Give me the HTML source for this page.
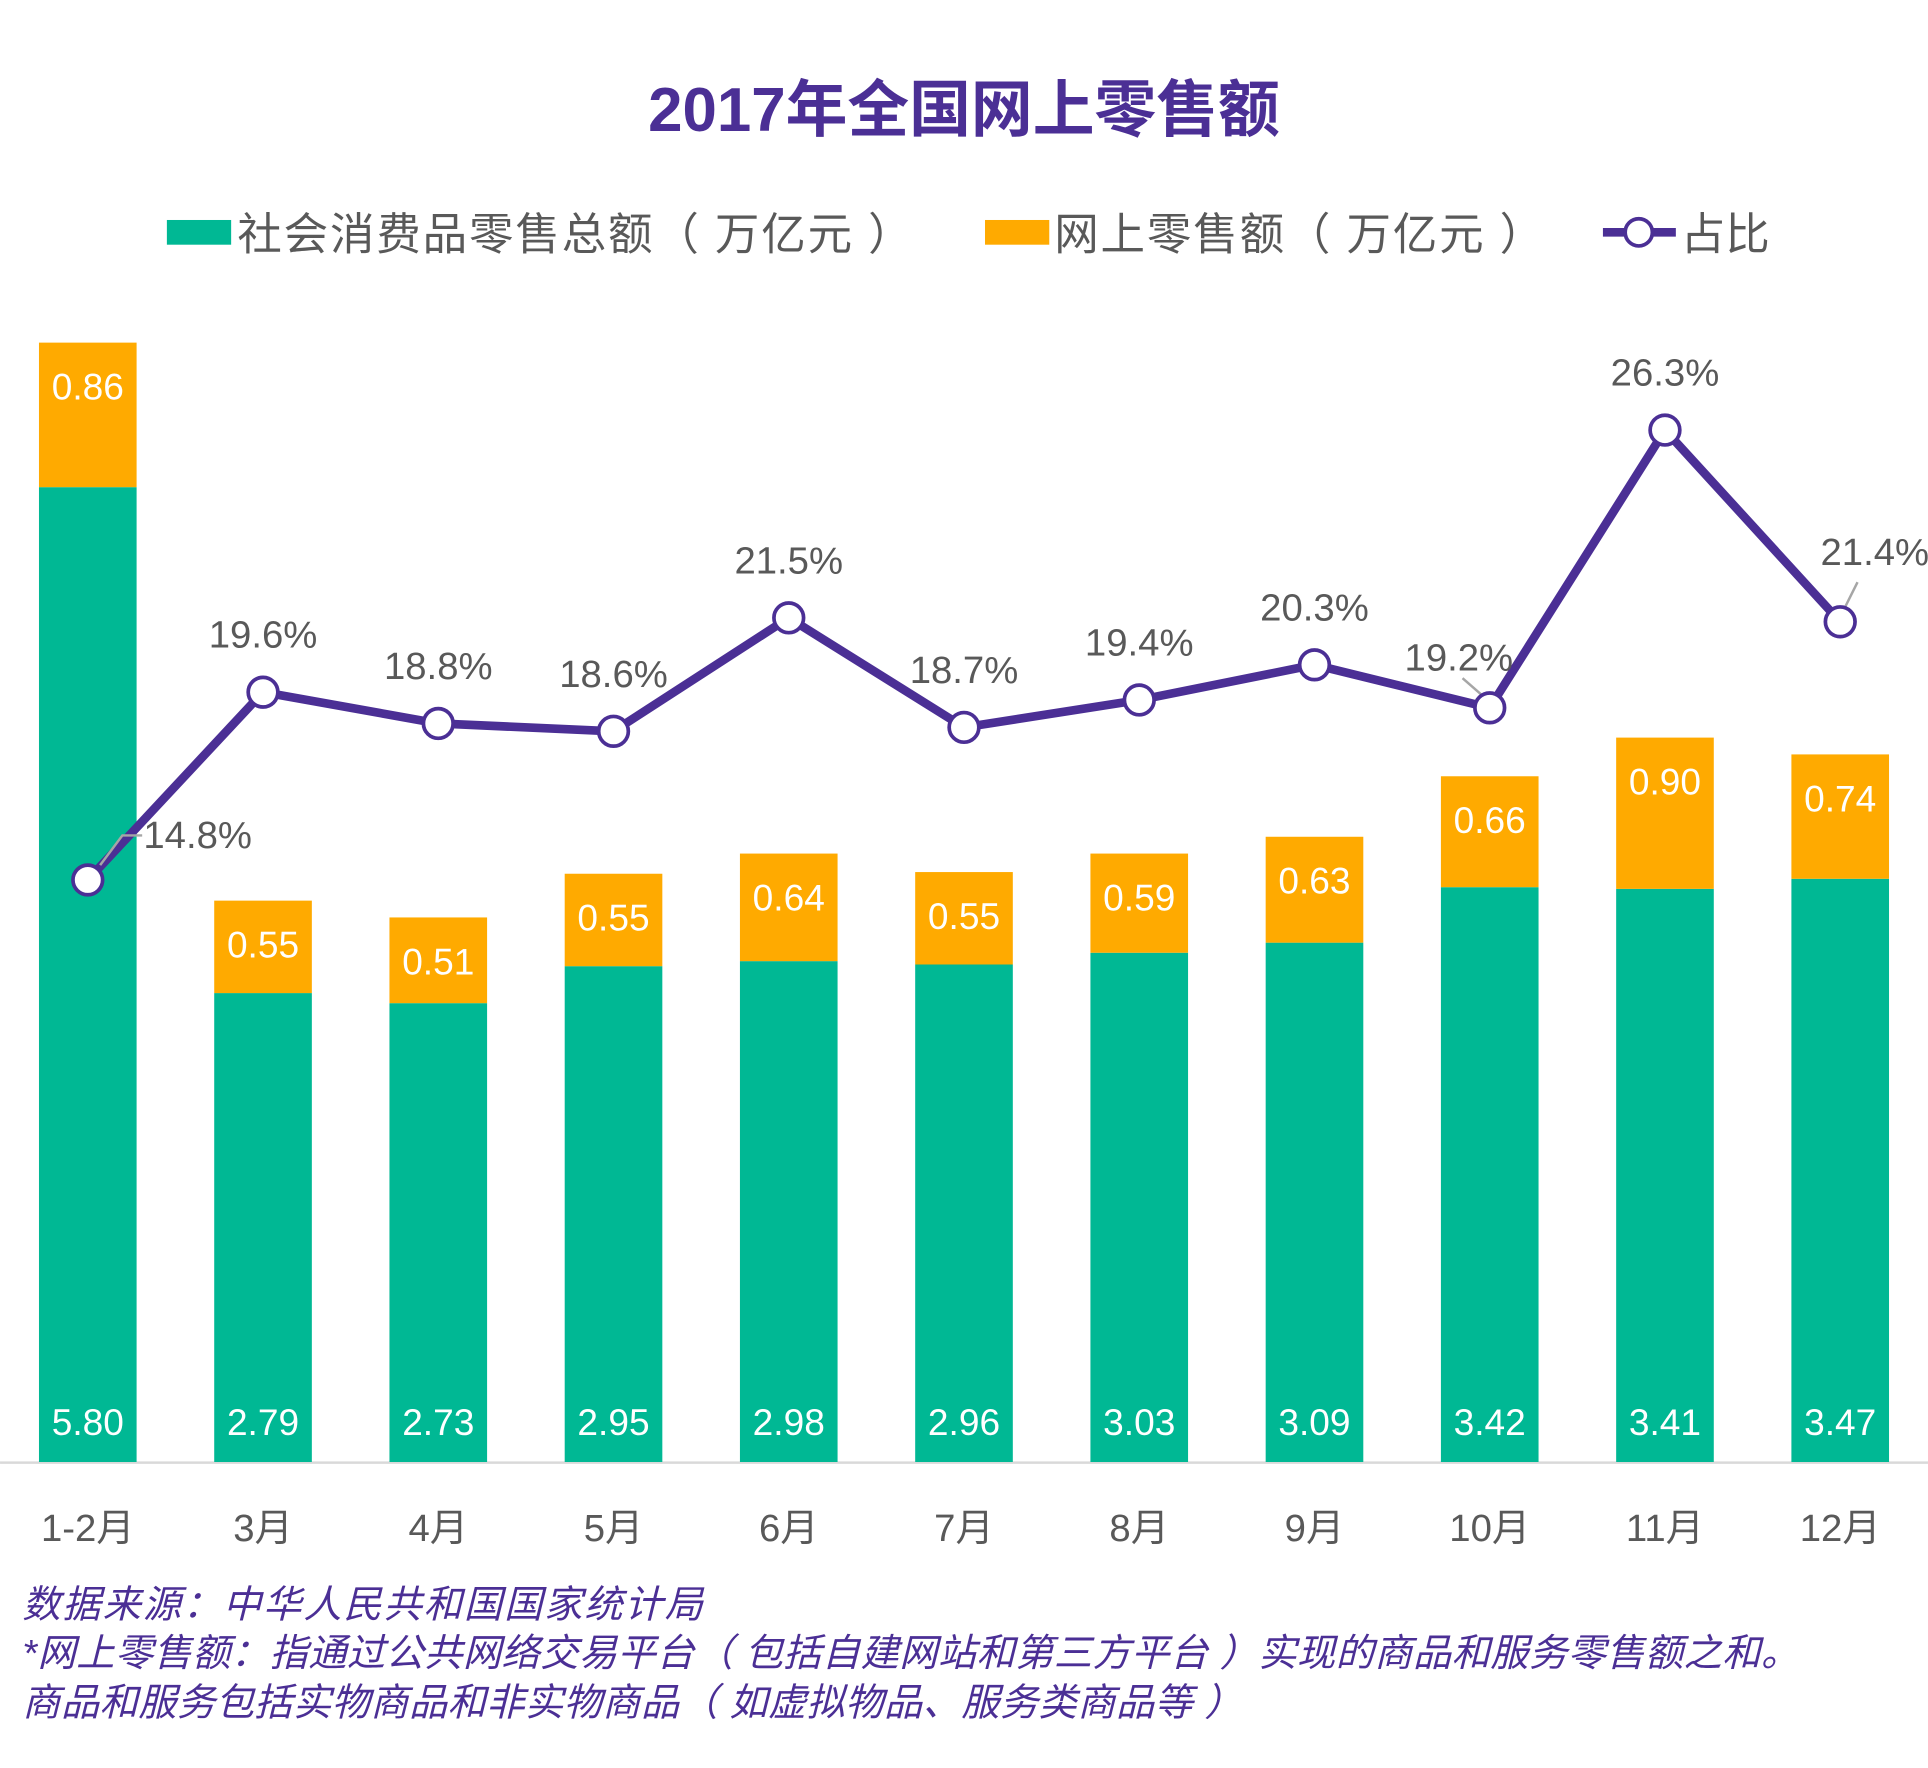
<!DOCTYPE html>
<html><head><meta charset="utf-8">
<style>
html,body{margin:0;padding:0;background:#fff;}
svg{display:block;}
text{font-family:"Liberation Sans","Noto Sans CJK SC",sans-serif;}
</style></head>
<body>
<svg id="chart" width="1928" height="1768" viewBox="0 0 1560 1430.6" xmlns="http://www.w3.org/2000/svg">
<rect width="1560" height="1430.6" fill="#fff"/>
<text x="780" y="106" text-anchor="middle" font-size="50" font-weight="bold" fill="#4b2f95">2017年全国网上零售额</text>
<g>
  <rect x="135" y="178" width="52" height="20" fill="#00b894"/>
  <text x="192" y="202" font-size="36" letter-spacing="1.5" fill="#595959">社会消费品零售总额（ 万亿元 ）</text>
  <rect x="797" y="178" width="52" height="20" fill="#ffaa00"/>
  <text x="853" y="202" font-size="36" letter-spacing="1.5" fill="#595959">网上零售额（ 万亿元 ）</text>
  <line x1="1297" y1="188" x2="1356" y2="188" stroke="#4b2f95" stroke-width="7"/>
  <circle cx="1326" cy="188" r="11" fill="#fff" stroke="#4b2f95" stroke-width="3"/>
  <text x="1360" y="202" font-size="36" fill="#595959">占比</text>
</g>
<line x1="0" y1="1183.5" x2="1560" y2="1183.5" stroke="#d9d9d9" stroke-width="2"/>
<g id="bars"></g>
<g id="line"></g>
<g font-size="31" font-style="italic" fill="#4b2f95">
  <text x="18" y="1309" letter-spacing="1.5">数据来源：中华人民共和国国家统计局</text>
  <text x="18" y="1348" letter-spacing="0.3">*网上零售额：指通过公共网络交易平台（ 包括自建网站和第三方平台 ）实现的商品和服务零售额之和。</text>
  <text x="18" y="1388" letter-spacing="0.3">商品和服务包括实物商品和非实物商品（ 如虚拟物品、服务类商品等 ）</text>
</g>
</svg>
<script>
const categories = ["1-2月","3月","4月","5月","6月","7月","8月","9月","10月","11月","12月"];
const totalSales = [5.80,2.79,2.73,2.95,2.98,2.96,3.03,3.09,3.42,3.41,3.47];
const onlineSales = [0.86,0.55,0.51,0.55,0.64,0.55,0.59,0.63,0.66,0.90,0.74];
const ratio = [14.8,19.6,18.8,18.6,21.5,18.7,19.4,20.3,19.2,26.3,21.4];

const NS = "http://www.w3.org/2000/svg";
const baseY = 1183, pxPerUnit = 136, barW = 79;
function xPos(i){ return 71 + i*141.8; }
function yVal(v){ return baseY - v*pxPerUnit; }
function yPct(p){ return 712 - (p-14.8)*31.65; }
function mk(tag, attrs, parent){
  const el = document.createElementNS(NS, tag);
  for (const k in attrs) el.setAttribute(k, attrs[k]);
  parent.appendChild(el); return el;
}
const bars = document.getElementById('bars');
const line = document.getElementById('line');
categories.forEach((c,i)=>{
  const x = xPos(i);
  const gTop = yVal(totalSales[i]);
  const oTop = yVal(totalSales[i]+onlineSales[i]);
  const g = mk('rect',{x:x-barW/2,y:gTop,width:barW,height:baseY-gTop,fill:'#00b894'},bars);
  
  
  const o = mk('rect',{x:x-barW/2,y:oTop,width:barW,height:gTop-oTop,fill:'#ffaa00'},bars);
  
  
  const t1 = mk('text',{x:x,y:1161,'text-anchor':'middle','font-size':30,fill:'#fff'},bars);
  t1.textContent = totalSales[i].toFixed(2);
  
  
  const t2 = mk('text',{x:x,y:oTop+46,'text-anchor':'middle','font-size':30,fill:'#fff'},bars);
  t2.textContent = onlineSales[i].toFixed(2);
  
  
  const xl = mk('text',{x:x,y:1247,'text-anchor':'middle','font-size':31,fill:'#595959'},bars);
  xl.textContent = c;
  
  
});
const pts = ratio.map((p,i)=>xPos(i)+','+yPct(p)).join(' ');
const pl = mk('polyline',{points:pts,fill:'none',stroke:'#4b2f95','stroke-width':7,'stroke-linejoin':'round'},line);


ratio.forEach((p,i)=>{
  const x = xPos(i), y = yPct(p);
  let lx = x, ly = y-36, anchor='middle';
  if (i===0){ lx = x+45; ly = y-26; anchor='start';
    mk('polyline',{points:(x+10)+','+(y-12)+' '+(x+28)+','+(y-36)+' '+(x+44)+','+(y-36),fill:'none',stroke:'#a6a6a6','stroke-width':2},line); }
  if (i===8){ lx = x-25; ly = y-30;
    mk('line',{x1:x-6,y1:y-10,x2:x-22,y2:y-24,stroke:'#a6a6a6','stroke-width':2},line); }
  if (i===10){ lx = x+28; ly = y-46;
    mk('line',{x1:x+4,y1:y-12,x2:x+14,y2:y-32,stroke:'#a6a6a6','stroke-width':2},line); }
  const c = mk('circle',{cx:x,cy:y,r:12,fill:'#fff',stroke:'#4b2f95','stroke-width':3},line);
  
  
  const t = mk('text',{x:lx,y:ly,'text-anchor':anchor,'font-size':31,fill:'#595959'},line);
  t.textContent = p.toFixed(1)+'%';
  
  
});
</script>
</body></html>
